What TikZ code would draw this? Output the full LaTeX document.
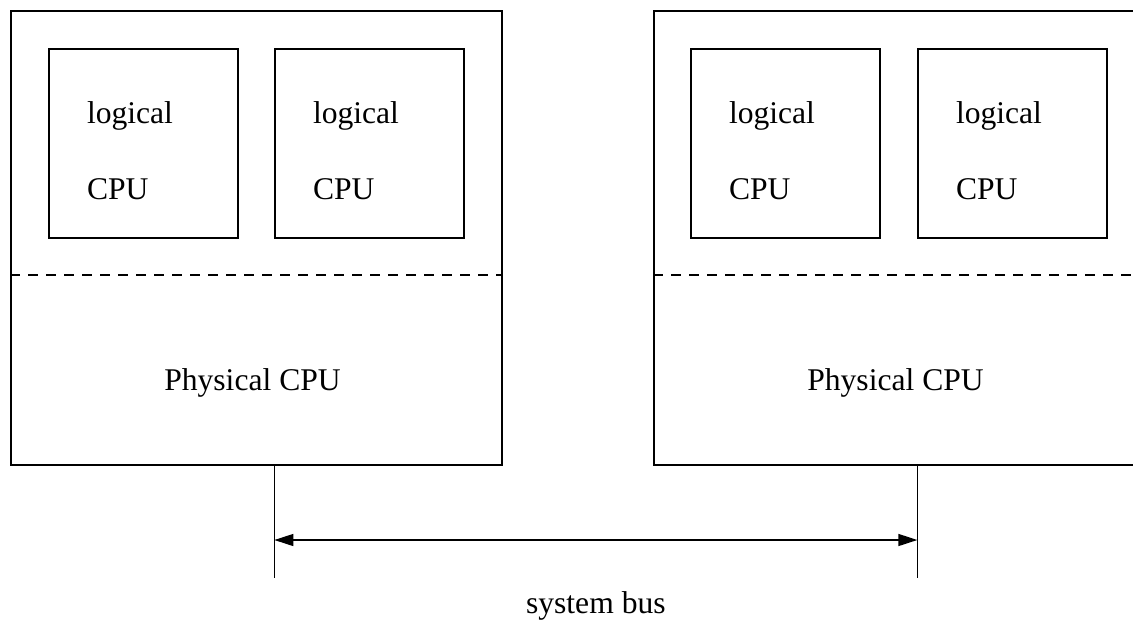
\documentclass[tikz,border=0pt]{standalone}
\usepackage{fontspec}
\setmainfont{Liberation Serif}
\usepackage{tikz}
\usetikzlibrary{arrows.meta, positioning}
\usetikzlibrary{calc}

\tikzset{
  phys/.style={draw, minimum width=245.5pt, minimum height=227pt, inner sep=0pt},
  logic/.style={draw, minimum width=94.5pt, minimum height=94.5pt, inner sep=0pt},
  lbl/.style={inner sep=0pt, font=\fontsize{15.8}{19}\selectfont},
}

\begin{document}
\begin{tikzpicture}[x=0.5pt, y=-0.5pt, line width=0.65pt]
            \useasboundingbox (0,0) rectangle (1133,621);
            \clip (0,0) rectangle (1133,621);
            % physical cpus
            \node[phys] (p1) at (256.5,238) {};
            \node[phys] (p2) at (899.5,238) {};
            % logical cpus
            \node[logic] (l1) at (143.5,143.5) {};
            \node[logic] (l2) at (369.5,143.5) {};
            \node[logic] (l3) at (785.5,143.5) {};
            \node[logic] (l4) at (1012.5,143.5) {};
            \foreach \n in {l1,l2,l3,l4} {
                \node[lbl, anchor=base west] (\n a) at ([shift={(38,75)}]\n.north west) {logical};
                \node[lbl, anchor=base west] (\n b) at ([shift={(38,151)}]\n.north west) {CPU};
            }
            % split line
            \draw[dashed, dash pattern=on 5pt off 4pt] (p1.west |- 0,275) -- (p1.east |- 0,275);
            \draw[dashed, dash pattern=on 5pt off 4pt] (p2.west |- 0,275) -- (p2.east |- 0,275);
            \node[lbl, anchor=base] (t1) at ([shift={(-4,152)}]p1.center) {Physical CPU};
            \node[lbl, anchor=base] (t2) at ([shift={(-4,152)}]p2.center) {Physical CPU};
            % bus
            \coordinate (b1) at (l2.west |- 0,578);
            \coordinate (b2) at (l4.west |- 0,578);
            \draw (l2.west |- p1.south) -- (b1);
            \draw (l4.west |- p2.south) -- (b2);
            \draw[{Triangle[length=9.5pt, width=6pt]}-{Triangle[length=9.5pt, width=6pt]}] ($(b1)+(0,-38)$) -- ($(b2)+(0,-38)$);
            \node[lbl, anchor=base] (bus) at ($(b1)!0.5!(b2)+(0,35)$) {system bus};
        \end{tikzpicture}
\end{document}
